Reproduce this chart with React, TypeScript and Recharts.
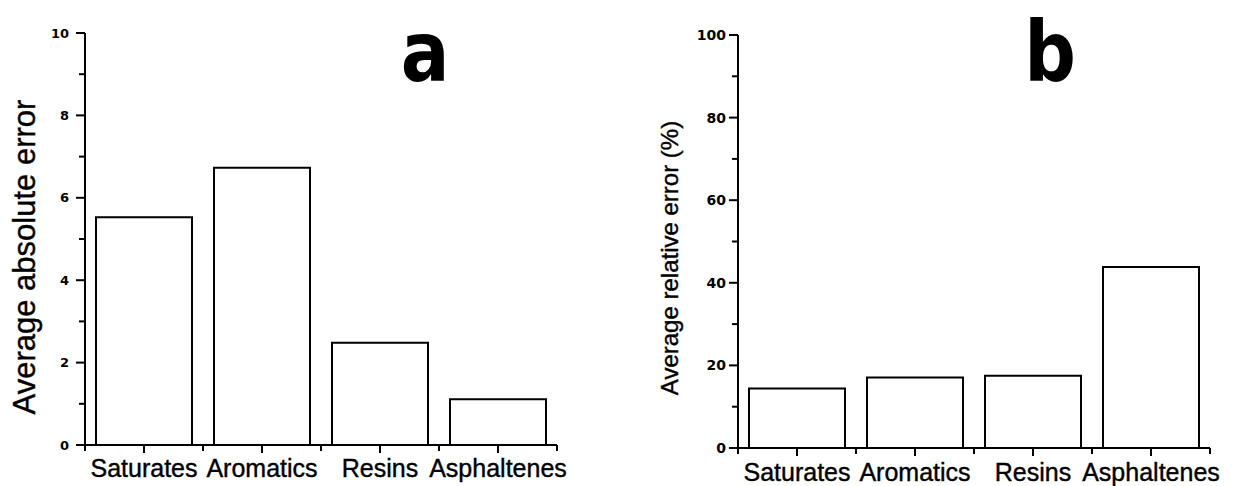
import { BarChart, Bar, XAxis, YAxis } from "recharts";

const categories = ["Saturates", "Aromatics", "Resins", "Asphaltenes"];
const absoluteError = [5.53, 6.73, 2.48, 1.11];
const relativeError = [14.4, 17.1, 17.5, 43.8];
const absTicks = [0, 1, 2, 3, 4, 5, 6, 7, 8, 9, 10];
const relTicks = [0, 10, 20, 30, 40, 50, 60, 70, 80, 90, 100];

const LABEL_FONT = "'Liberation Sans', Arial, sans-serif";
const NUM_FONT = "'DejaVu Sans', sans-serif";
const INK = "#000";

const absData = categories.map((name, i) => ({ name, value: absoluteError[i] }));
const relData = categories.map((name, i) => ({ name, value: relativeError[i] }));

type PanelProps = {
  data: { name: string; value: number }[];
  ticks: number[];
  labelStep: number;
  yLabel: string;
  yLabelSize: number;
  yLabelX: number;
  yLabelY: number;
  width: number;
  yAxisWidth: number;
  marginRight: number;
  top: number;
  xAxisHeight: number;
  numSize: number;
  numGap: number;
  xLabelDy: number;
};

function Panel(p: PanelProps) {
  const plotW = p.width - p.yAxisWidth - p.marginRight;
  const band = plotW / p.data.length;
  const max = p.ticks[p.ticks.length - 1];

  const yTick = (props: any) => {
    const { x, y, payload } = props;
    const v = payload.value;
    const major = v % p.labelStep === 0;
    const len = major ? 9 : 6;
    return (
      <g>
        <line x1={x - len} x2={x} y1={y} y2={y} stroke={INK} strokeWidth={2} />
        {major && (
          <text
            x={x - len - p.numGap}
            y={y}
            textAnchor="end"
            dominantBaseline="central"
            fontFamily={NUM_FONT}
            fontWeight="bold"
            fontSize={p.numSize}
            fill={INK}
          >
            {v}
          </text>
        )}
      </g>
    );
  };

  const xTick = (props: any) => {
    const { x, y, payload, index } = props;
    return (
      <g>
        <line x1={x} x2={x} y1={y} y2={y + 8} stroke={INK} strokeWidth={2} />
        <line x1={x + band / 2} x2={x + band / 2} y1={y} y2={y + 6} stroke={INK} strokeWidth={2} />
        {index === 0 && (
          <line x1={x - band / 2} x2={x - band / 2} y1={y} y2={y + 6} stroke={INK} strokeWidth={2} />
        )}
        <text
          x={x}
          y={y + p.xLabelDy}
          textAnchor="middle"
          fontFamily={LABEL_FONT}
          fontSize={25}
          stroke={INK}
          strokeWidth={0.4}
          fill={INK}
        >
          {payload.value}
        </text>
      </g>
    );
  };

  return (
    <BarChart
      width={p.width}
      height={486}
      data={p.data}
      margin={{ top: p.top, right: p.marginRight, left: 0, bottom: 0 }}
      barSize={96}
    >
      <XAxis
        dataKey="name"
        height={p.xAxisHeight}
        axisLine={{ stroke: INK, strokeWidth: 2 }}
        tickLine={false}
        tickSize={0}
        tickMargin={0}
        tick={xTick}
        interval={0}
      />
      <YAxis
        width={p.yAxisWidth}
        domain={[0, max]}
        ticks={p.ticks}
        interval={0}
        axisLine={{ stroke: INK, strokeWidth: 2 }}
        tickLine={false}
        tickSize={0}
        tickMargin={0}
        tick={yTick}
        label={{
          content: () => (
            <text
              transform={`translate(${p.yLabelX}, ${p.yLabelY}) rotate(-90)`}
              textAnchor="middle"
              fontFamily={LABEL_FONT}
              fontSize={p.yLabelSize}
              stroke={INK}
              strokeWidth={0.4}
              fill={INK}
            >
              {p.yLabel}
            </text>
          ),
        }}
      />
      <Bar dataKey="value" fill="#fff" stroke={INK} strokeWidth={2} isAnimationActive={false} />
    </BarChart>
  );
}

function PanelLetter({ x, children }: { x: number; children: string }) {
  return (
    <text
      transform={`translate(${x}, 81) scale(0.86, 1)`}
      textAnchor="middle"
      fontFamily={NUM_FONT}
      fontWeight="bold"
      fontSize={84}
      fill={INK}
    >
      {children}
    </text>
  );
}

export default function App() {
  return (
    <div style={{ position: "absolute", left: 0, top: 0, width: 1259, height: 486, background: "#fff" }}>
      <div style={{ position: "absolute", left: 0, top: 0 }}>
        <Panel
          data={absData}
          ticks={absTicks}
          labelStep={2}
          yLabel="Average absolute error"
          yLabelSize={31}
          yLabelX={35}
          yLabelY={257}
          width={620}
          yAxisWidth={85}
          marginRight={63}
          top={33}
          xAxisHeight={41}
          numSize={13}
          numGap={7}
          xLabelDy={32}
        />
      </div>
      <div style={{ position: "absolute", left: 620, top: 0 }}>
        <Panel
          data={relData}
          ticks={relTicks}
          labelStep={20}
          yLabel="Average relative error (%)"
          yLabelSize={24}
          yLabelX={58}
          yLabelY={258}
          width={639}
          yAxisWidth={118}
          marginRight={49}
          top={35}
          xAxisHeight={38}
          numSize={14}
          numGap={3}
          xLabelDy={33}
        />
      </div>
      <svg
        width={1259}
        height={120}
        style={{ position: "absolute", left: 0, top: 0, pointerEvents: "none" }}
      >
        <PanelLetter x={425}>a</PanelLetter>
        <PanelLetter x={1050}>b</PanelLetter>
      </svg>
    </div>
  );
}
